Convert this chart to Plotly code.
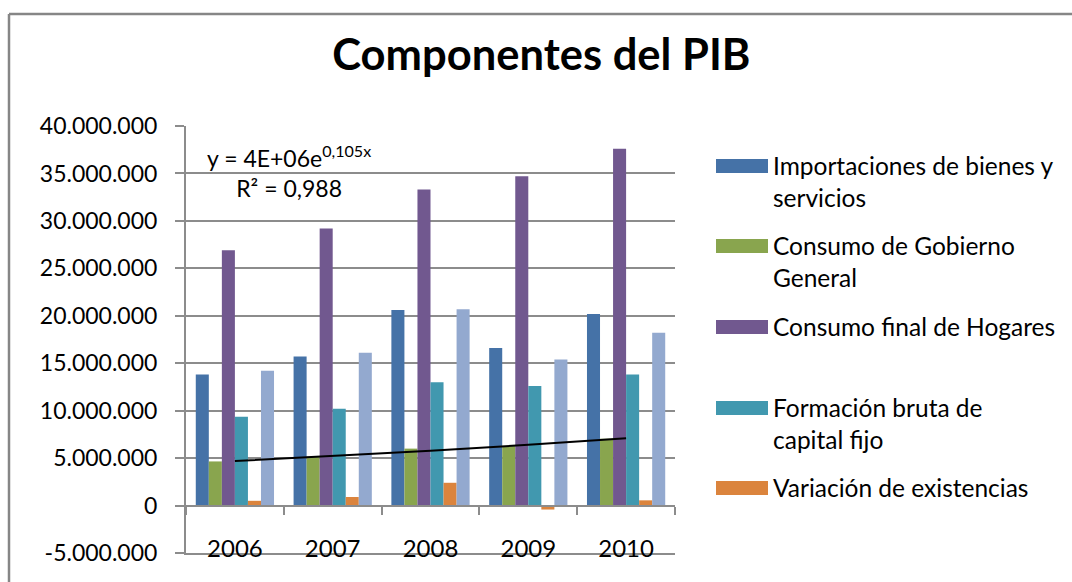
import numpy as np
import plotly.graph_objects as go

# ---- data ----
years = ["2006", "2007", "2008", "2009", "2010"]
importaciones = [13_800_000, 15_700_000, 20_600_000, 16_600_000, 20_200_000]
gobierno = [4_650_000, 5_150_000, 6_000_000, 6_300_000, 7_050_000]
hogares = [26_900_000, 29_200_000, 33_300_000, 34_700_000, 37_600_000]
formacion = [9_350_000, 10_200_000, 13_000_000, 12_600_000, 13_800_000]
variacion = [500_000, 900_000, 2_400_000, -420_000, 550_000]
exportaciones = [14_200_000, 16_100_000, 20_700_000, 15_400_000, 18_200_000]

series_names = [
    "Importaciones de bienes y<br>servicios",
    "Consumo de Gobierno<br>General",
    "Consumo final de Hogares",
    "Formación bruta de<br>capital fijo",
    "Variación de existencias",
    "Exportaciones de bienes y servicios",
]
series_values = [importaciones, gobierno, hogares, formacion, variacion, exportaciones]
colors = ["#4572A7", "#89A54E", "#71588F", "#4198AF", "#DB843D", "#93A9CF"]

y_tickvals = [-5_000_000, 0, 5_000_000, 10_000_000, 15_000_000, 20_000_000,
              25_000_000, 30_000_000, 35_000_000, 40_000_000]
y_ticktext = ["-5.000.000", "0", "5.000.000", "10.000.000", "15.000.000", "20.000.000",
              "25.000.000", "30.000.000", "35.000.000", "40.000.000"]
y_range = [-5_000_000, 40_000_000]

FONT = "Lato, Calibri, sans-serif"
GRID = "#8C8C8C"

# plot area in pixels (1072x582 canvas)
PX0, PX1, PY0, PY1 = 186, 675, 126, 553


def px(x):
    return (x - PX0) / (PX1 - PX0)


def py(y):
    return (PY1 - y) / (PY1 - PY0)


fig = go.Figure()

for name, vals, col in zip(series_names, series_values, colors):
    fig.add_trace(go.Bar(
        x=years, y=vals, name=name.replace("<br>", " "),
        marker=dict(color=col, line=dict(width=0)),
        showlegend=False,
    ))

# exponential trendline on Consumo de Gobierno General
xs = np.arange(1, len(years) + 1)
b, a = np.polyfit(xs, np.log(gobierno), 1)
trend = np.exp(a) * np.exp(b * xs)
fig.add_trace(go.Scatter(
    x=years, y=trend, mode="lines",
    line=dict(color="black", width=2),
    showlegend=False, hoverinfo="skip",
))

# invisible trace to carry the zero-line category axis
fig.add_trace(go.Scatter(x=years, y=[0] * len(years), xaxis="x2",
                         mode="markers", marker=dict(opacity=0),
                         showlegend=False, hoverinfo="skip"))

annotations = [
    dict(text="y = 4E+06e<sup>0,105x</sup><br>R² = 0,988",
         xref="paper", yref="paper", x=px(289), y=py(139),
         xanchor="center", yanchor="top", align="center", showarrow=False,
         font=dict(family=FONT, size=23, color="black")),
]
shapes = [
    # chart border (top and left visible)
    dict(type="line", xref="paper", yref="paper", x0=px(9), x1=px(1080),
         y0=py(14), y1=py(14), line=dict(color="#868686", width=2.5)),
    dict(type="line", xref="paper", yref="paper", x0=px(9), x1=px(9),
         y0=py(14), y1=py(600), line=dict(color="#868686", width=2.5)),
]

# legend (first five series)
legend_tops = [159, 239, 320, 401, 481]
for name, col, top in zip(series_names[:5], colors[:5], legend_tops):
    shapes.append(dict(type="rect", xref="paper", yref="paper",
                       x0=px(716), x1=px(768), y0=py(top), y1=py(top + 14),
                       fillcolor=col, line=dict(width=0)))
    annotations.append(dict(text=name, xref="paper", yref="paper",
                            x=px(771), y=py(top - 10), xanchor="left", yanchor="top",
                            align="left", showarrow=False,
                            font=dict(family=FONT, size=24.5, color="black")))

fig.update_layout(
    width=1072, height=582,
    paper_bgcolor="white", plot_bgcolor="white",
    margin=dict(l=PX0, r=1072 - PX1, t=PY0, b=582 - PY1),
    title=dict(text="<b>Componentes del PIB</b>", x=0.505, xanchor="center",
               y=1 - 55 / 582, yanchor="middle",
               font=dict(family=FONT, size=43.5, color="black")),
    barmode="group", bargap=0.2, bargroupgap=0,
    separators=",.",
    showlegend=False,
    font=dict(family=FONT, size=24, color="black"),
    xaxis=dict(type="category", categoryarray=years, showgrid=False,
               showline=True, linecolor=GRID, linewidth=2,
               ticks="", tickfont=dict(family=FONT, size=24, color="black"),
               ticklabelstandoff=-27, zeroline=False),
    xaxis2=dict(type="category", categoryarray=years, matches="x", overlaying="x",
                anchor="free", position=(0 - y_range[0]) / (y_range[1] - y_range[0]),
                showline=True, linecolor=GRID, linewidth=2,
                ticks="outside", tickson="boundaries", ticklen=8, tickcolor=GRID,
                tickwidth=2, showticklabels=False, showgrid=False),
    yaxis=dict(range=y_range, tickvals=y_tickvals, ticktext=y_ticktext,
               showgrid=True, gridcolor=GRID, gridwidth=2, zeroline=False,
               showline=True, linecolor=GRID, linewidth=2,
               ticks="outside", ticklen=9, tickcolor=GRID, tickwidth=2,
               ticklabelstandoff=13,
               tickfont=dict(family=FONT, size=23, color="black")),
    annotations=annotations,
    shapes=shapes,
)

fig.write_html("out.html", config={"displayModeBar": False},
               post_script="document.body.style.margin='0';")
